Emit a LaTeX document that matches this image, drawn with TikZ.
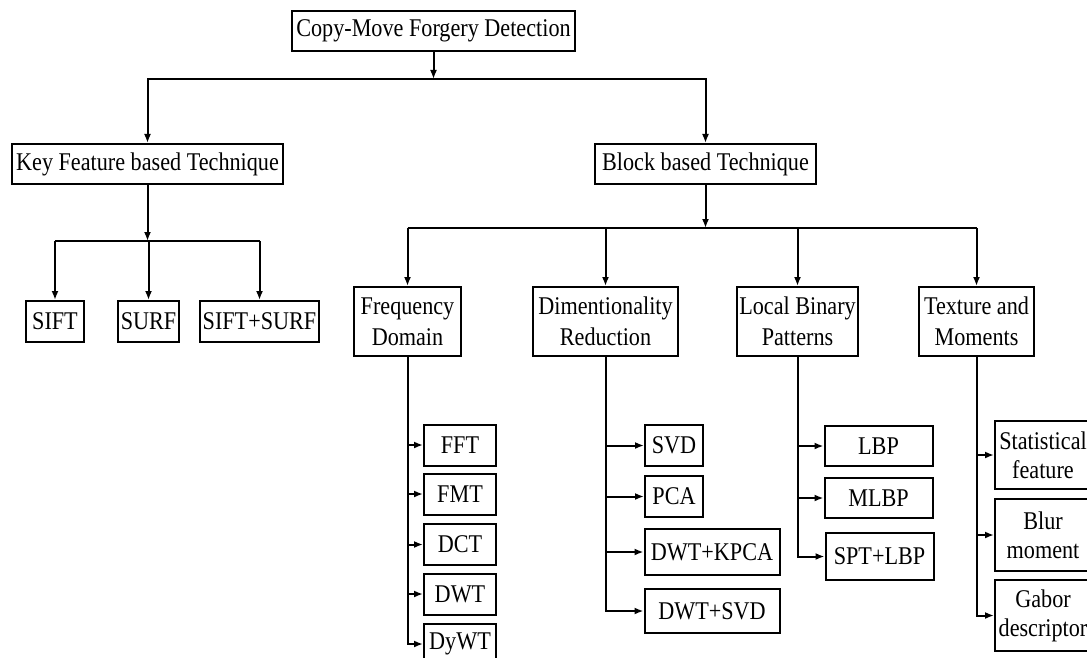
\documentclass[tikz,border=0pt]{standalone}
\usepackage{fontspec}
\setmainfont{Liberation Serif}[FakeStretch=0.87]
\usetikzlibrary{arrows.meta}

\tikzset{
  blk/.style={draw,line width=2pt,inner sep=0pt,align=center,
    font=\fontsize{25.5}{31}\selectfont},
  arr/.style={line width=2pt,-{Latex[length=9pt,width=7pt]}},
  ln/.style={line width=2pt}
}

\begin{document}
\begin{tikzpicture}[x=1pt,y=-1pt]

  \fill[white] (0,0) rectangle (1087,658);
  \useasboundingbox (0,0) rectangle (1087,658);

  \begin{scope}[every node/.style={blk,minimum height=40pt}]
    \node[minimum width=283pt] (top)   at (433.5,31)  {Copy-Move Forgery Detection};
    \node[minimum width=271pt] (key)   at (147.5,164) {Key Feature based Technique};
    \node[minimum width=221pt] (block) at (705.5,164) {Block based Technique};

    \node[minimum width=58pt,minimum height=41pt]  (sift)     at (55,321.5)    {SIFT};
    \node[minimum width=61pt,minimum height=41pt]  (surf)     at (148.5,321.5) {SURF};
    \node[minimum width=119pt,minimum height=41pt] (siftsurf) at (259.5,321.5) {SIFT+SURF};
  \end{scope}

  \begin{scope}[every node/.style={blk,minimum height=69pt}]
    \node[minimum width=107pt] (freq)    at (407.5,321.5) {Frequency\\Domain};
    \node[minimum width=145pt] (dimred)  at (605.5,321.5) {Dimentionality\\Reduction};
    \node[minimum width=121pt] (lbp)     at (797.5,321.5) {Local Binary\\Patterns};
    \node[minimum width=115pt] (texture) at (976.5,321.5) {Texture and\\Moments};
  \end{scope}

  % frequency domain
  \begin{scope}[every node/.style={blk,minimum width=72pt,minimum height=41pt}]
    \node (fft)  at (460,445)   {FFT};
    \node (fmt)  at (460,494)   {FMT};
    \node (dct)  at (460,544.5) {DCT};
    \node (dwt)  at (460,594)   {DWT};
    \node (dywt) at (460,644)   {DyWT};
  \end{scope}

  % dimentionality reduction
  \begin{scope}[every node/.style={blk,minimum height=41pt}]
    \node[minimum width=58pt]  (svd)     at (674,445.5)   {SVD};
    \node[minimum width=58pt]  (pca)     at (674,496.5)   {PCA};
    \node[minimum width=135pt,minimum height=46pt] (dwtkpca) at (712,552) {DWT+KPCA};
    \node[minimum width=135pt,minimum height=44pt] (dwtsvd)  at (712,611) {DWT+SVD};
  \end{scope}

  % local binary patterns
  \begin{scope}[every node/.style={blk,minimum width=108pt,minimum height=40pt}]
    \node (lbpa)   at (878.5,446)   {LBP};
    \node (mlbp)   at (878.5,498)   {MLBP};
    \node[minimum height=47pt] (sptlbp) at (879.5,556.5) {SPT+LBP};
  \end{scope}

  % texture and moments
  \begin{scope}[every node/.style={blk,minimum width=96pt,
      font=\fontsize{25.5}{29}\selectfont}]
    \node[minimum height=68pt] (stat)  at (1043,455)   {Statistical\\feature};
    \node[minimum height=72pt] (blur)  at (1043,535)   {Blur\\moment};
    \node[minimum height=71pt] (gabor) at (1043,615.5) {Gabor\\descriptor};
  \end{scope}

  % junctions
  \coordinate (j1) at (433.5,79);
  \coordinate (j2) at (147.5,241);
  \coordinate (j3) at (705.5,228);

  \draw[arr] (top) -- (j1);
  \draw[ln] (key.north |- j1) -- (block.north |- j1);
  \draw[arr] (j1) -| (key);
  \draw[arr] (j1) -| (block);

  \draw[arr] (key) -- (j2);
  \draw[ln] (sift.north |- j2) -- (siftsurf.north |- j2);
  \foreach \n in {sift,surf,siftsurf}
    \draw[arr] (\n.north |- j2) -- (\n.north);

  \draw[arr] (block) -- (j3);
  \draw[ln] (freq.north |- j3) -- (texture.north |- j3);
  \foreach \n in {freq,dimred,lbp,texture}
    \draw[arr] (\n.north |- j3) -- (\n.north);

  \draw[arr] (freq.south) |- (dywt.west);
  \foreach \n in {fft,fmt,dct,dwt}
    \draw[arr] (freq.south |- \n.west) -- (\n.west);

  \draw[arr] (dimred.south) |- (dwtsvd.west);
  \foreach \n in {svd,pca,dwtkpca}
    \draw[arr] (dimred.south |- \n.west) -- (\n.west);

  \draw[arr] (lbp.south) |- (sptlbp.west);
  \foreach \n in {lbpa,mlbp}
    \draw[arr] (lbp.south |- \n.west) -- (\n.west);

  \draw[arr] (texture.south) |- (gabor.west);
  \foreach \n in {stat,blur}
    \draw[arr] (texture.south |- \n.west) -- (\n.west);

\end{tikzpicture}
\end{document}
